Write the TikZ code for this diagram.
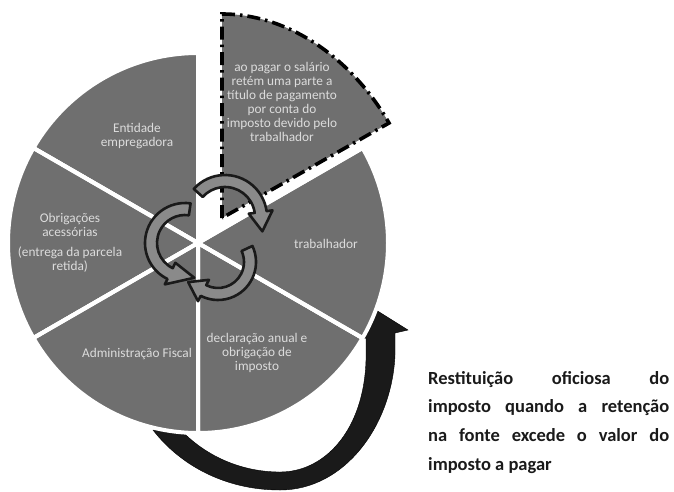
\documentclass[tikz,border=0pt]{standalone}
\usepackage{fontspec}
\setmainfont{Carlito}
\definecolor{sectorgray}{HTML}{6F6F6F}
\definecolor{labelgray}{HTML}{DCDCDC}
\definecolor{ink}{HTML}{1A1A1A}
\definecolor{cyclefill}{HTML}{8A8A8A}
\hbadness=10000
\newcommand{\cyclearrow}[7]{% cx, cy, radius, tail angle, head-base angle, tip angle, tip radius offset
  \begin{scope}[shift={(#1,#2)}]
    \filldraw[cyclearr] ({#4}:{#3+6}) arc[start angle={#4}, end angle={#5}, radius={#3+6}]
      -- ({#5}:{#3+12}) -- ({#6}:{#3+#7}) -- ({#5}:{#3-12})
      -- ({#5}:{#3-6}) arc[start angle={#5}, end angle={#4}, radius={#3-6}] -- cycle;
  \end{scope}}
\begin{document}
\begin{tikzpicture}[x=1pt, y=-1pt,
  sector/.style={fill=sectorgray, draw=white, line width=4pt, line join=round},
  cutout/.style={fill=sectorgray},
  cutoutrim/.style={draw=black, line width=3.6pt, dash pattern=on 13pt off 5pt on 2.5pt off 5pt},
  cyclearr/.style={fill=cyclefill, draw=ink, line width=2.6pt, line join=round},
  piecetext/.style={text=labelgray, align=center, inner sep=0pt, font=\fontsize{13.3}{14}\selectfont},
  bigarrow/.style={fill=ink}]
\useasboundingbox (0,0) rectangle (674,491);

% centre of the pie
\coordinate (c) at (198,243);

% large return arrow, drawn first so the pie covers its ends
\filldraw[bigarrow] (360,300) -- (408,330) -- (395,333) -- (395,355)
  .. controls (392,425) and (345,490) .. (280,490)
  .. controls (225,490) and (180,465) .. (153,430)
  -- (172,420)
  .. controls (200,455) and (240,472) .. (280,472)
  .. controls (325,472) and (364,430) .. (366,360)
  -- (366,338) -- (340,345) -- cycle;

% the five sectors of the pie
\fill[sector] (c) -- ++(210:190) arc[start angle=210, end angle=270, radius=190] -- cycle;
\fill[sector] (c) -- ++(150:190) arc[start angle=150, end angle=210, radius=190] -- cycle;
\fill[sector] (c) -- ++(90:190) arc[start angle=90, end angle=150, radius=190] -- cycle;
\fill[sector] (c) -- ++(30:190) arc[start angle=30, end angle=90, radius=190] -- cycle;
\fill[sector] (c) -- ++(-30:190) arc[start angle=-30, end angle=30, radius=190] -- cycle;
\draw[sector, fill=none] (c) -- ++(210:190) (c) -- ++(150:190) (c) -- ++(90:190)
  (c) -- ++(30:190) (c) -- ++(-30:190) (c) -- ++(270:190);

% the sector pulled out of the pie
\coordinate (apex) at (222,218);
\coordinate (top) at (222,14);
\coordinate (rim) at (389,123);
\fill[cutout] (apex) -- (top) .. controls (292,14) and (354,62) .. (rim) -- cycle;
\draw[cutoutrim] (apex) -- (top) .. controls (292,14) and (354,62) .. (rim) -- cycle;

% cycle of three arrows in the middle
\cyclearrow{225}{217}{36}{222}{352}{381}{4}
\cyclearrow{185}{243}{34}{-82}{-244}{-285}{2}
\cyclearrow{218}{262}{32}{-25}{117}{146}{4}

% sector labels
\node[piecetext] (ent) at (137,136) {Entidade\\empregadora};
\node[piecetext] (obr) at (70,243) {Obrigações\\acessórias\\[6pt](entrega da parcela\\retida)};
\node[piecetext] (adm) at (137,354) {Administração Fiscal};
\node[piecetext] (dec) at (257,353) {declaração anual e\\obrigação de\\imposto};
\node[piecetext] (trab) at (326,244) {trabalhador};
\node[piecetext] (ret) at (282,102) {ao pagar o salário\\retém uma parte a\\título de pagamento\\por conta do\\imposto devido pelo\\trabalhador};

% note beside the return arrow
\node[anchor=base west, inner sep=0pt, text=ink] (note) at (428,384)
  {\parbox[t]{241pt}{\fontsize{18.5}{28.7}\selectfont\bfseries\noindent
   Restituição oficiosa do\linebreak imposto quando a retenção\linebreak
   na fonte excede o valor do\linebreak imposto a pagar}};
\end{tikzpicture}
\end{document}
